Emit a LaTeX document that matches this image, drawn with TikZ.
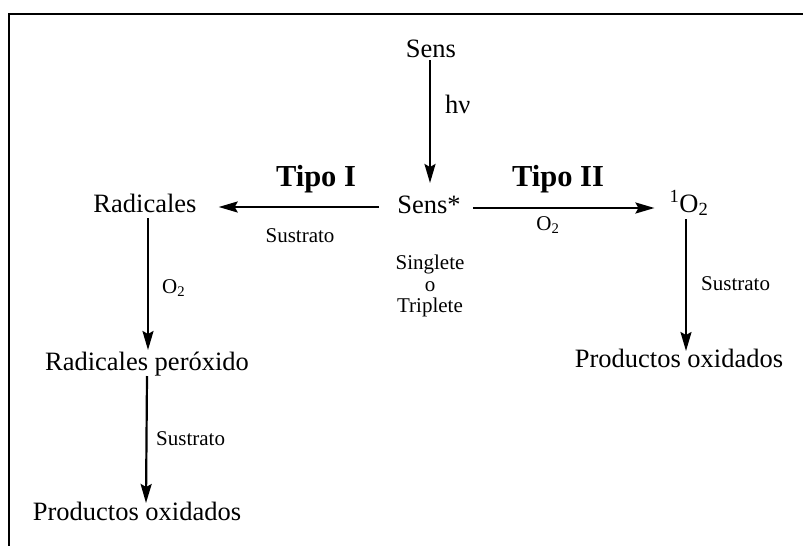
\documentclass[tikz,border=0pt]{standalone}
\usepackage{fontspec}
\setmainfont{Liberation Serif}
\usetikzlibrary{arrows.meta}
\begin{document}
\begin{tikzpicture}[x=1pt,y=-1pt,
  lbl/.style={inner sep=0pt, anchor=base, font=\fontsize{26.5}{30}\selectfont},
  sm/.style={inner sep=0pt, anchor=base, font=\fontsize{21}{21.5}\selectfont},
  tipo/.style={inner sep=0pt, anchor=base, font=\fontsize{30.5}{34}\selectfont\bfseries},
  arr/.style={line width=2.2pt, -{Stealth[length=19pt,width=11pt,inset=3pt]}}]
\useasboundingbox (0,0) rectangle (803,546);
\draw[line width=2.4pt] (9,546) -- (9,14) -- (803,14);
% main species
\node[lbl] (sens) at (431,57) {Sens};
\node[lbl] (sensstar) at (429,213) {Sens*};
\node[lbl] (rad) at (145,212) {Radicales};
\node[lbl] (so2) at (689,212) {\textsuperscript{1}O\textsubscript{2}};
\node[lbl] (perox) at (147,370) {Radicales peróxido};
\node[lbl] (prodL) at (137,520) {Productos oxidados};
\node[lbl] (prodR) at (679,367) {Productos oxidados};
% labels
\node[lbl, anchor=base west] (hv) at (445,113) {hν};
\node[tipo] (tipoI) at (316,186) {Tipo I};
\node[tipo] (tipoII) at (558,186) {Tipo II};
\node[sm] (sustL) at (300,242) {Sustrato};
\node[sm] (o2R) at (548,230) {O\textsubscript{2}};
\node[sm, anchor=north, align=center] (state) at (430,255) {Singlete\\o\\Triplete};
\node[sm, anchor=base west] (sustR) at (701,290) {Sustrato};
\node[sm, anchor=base west] (o2L) at (162,293) {O\textsubscript{2}};
\node[sm, anchor=base west] (sustB) at (156,445) {Sustrato};
% connectors
\draw[arr] ([xshift=-1pt,yshift=-3pt]sens.base) -- ([xshift=1pt,yshift=30pt]sensstar.base);
\draw[arr] ([xshift=-18pt,yshift=6pt]sensstar.base west) -- ([xshift=22pt,yshift=5pt]rad.base east);
\draw[arr] ([xshift=12pt,yshift=5pt]sensstar.base east) -- ([xshift=-15pt,yshift=4pt]so2.base west);
\draw[arr] ([xshift=3pt,yshift=-6pt]rad.base) -- ([xshift=1pt,yshift=20pt]perox.base);
\draw[arr] ([yshift=-6pt]perox.base) -- ([xshift=9pt,yshift=17pt]prodL.base);
\draw[arr] ([xshift=-3pt,yshift=-7pt]so2.base) -- ([xshift=7pt,yshift=16pt]prodR.base);
\end{tikzpicture}
\end{document}
